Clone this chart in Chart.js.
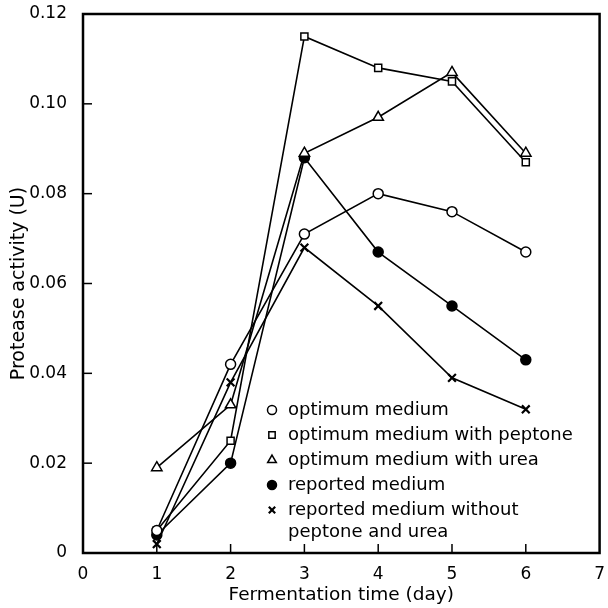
<!DOCTYPE html>
<html>
<head>
<meta charset="utf-8">
<script src="https://cdn.jsdelivr.net/npm/chart.js@4"></script>
<style>
  body { margin: 0; background: #fff; }
  #wrap { width: 608px; height: 608px; }
</style>
</head>
<body>
<div id="wrap"><canvas id="myChart"></canvas></div>
<script>
// fermentation days
let days = [1, 2, 3, 4, 5, 6];

// protease activity (U) per medium
let optimum = [0.005, 0.042, 0.071, 0.080, 0.076, 0.067];
let optimumPeptone = [0.005, 0.025, 0.115, 0.108, 0.105, 0.087];
let optimumUrea = [0.019, 0.033, 0.089, 0.097, 0.107, 0.089];
let reported = [0.004, 0.020, 0.088, 0.067, 0.055, 0.043];
let reportedPlain = [0.002, 0.038, 0.068, 0.055, 0.039, 0.032];

let labels = [
  'optimum medium',
  'optimum medium with peptone',
  'optimum medium with urea',
  'reported medium',
  ['reported medium without', 'peptone and urea']
];

let xTicks = [0, 1, 2, 3, 4, 5, 6, 7];

const FONT = '"DejaVu Sans", sans-serif';

function toPoints(values) {
  return values.map((v, i) => ({ x: days[i], y: v }));
}

function makeSet(label, values, style, filled, radius, bw) {
  return {
    label: label,
    data: toPoints(values),
    borderColor: '#000',
    backgroundColor: filled ? '#000' : '#fff',
    pointStyle: style,
    pointRadius: radius,
    pointBorderWidth: bw,
    borderWidth: 1.6,
    tension: 0
  };
}

// box + inward ticks + legend inside the plot
const decor = {
  id: 'decor',
  afterDraw(chart) {
    const c = chart.ctx;
    const a = chart.chartArea;
    const xs = chart.scales.x;
    const ys = chart.scales.y;
    c.save();
    c.strokeStyle = '#000';
    c.lineWidth = 2.5;
    c.strokeRect(a.left, a.top, a.right - a.left, a.bottom - a.top);

    c.lineWidth = 1.5;
    for (let t = 1; t <= 6; t++) {
      let px = xs.getPixelForValue(t);
      c.beginPath();
      c.moveTo(px, a.bottom);
      c.lineTo(px, a.bottom - 9);
      c.stroke();
    }
    for (let t = 1; t <= 5; t++) {
      let py = ys.getPixelForValue(t * 0.02);
      c.beginPath();
      c.moveTo(a.left, py);
      c.lineTo(a.left + 9, py);
      c.stroke();
    }

    // legend
    let lx = 272, ly = 410, step = 25;
    c.textBaseline = 'middle';
    chart.data.datasets.forEach((ds, i) => {
      let y = ly + i * step;
      c.fillStyle = ds.backgroundColor;
      c.strokeStyle = '#000';
      c.lineWidth = ds.pointBorderWidth;
      Chart.helpers.drawPoint(c, {
        pointStyle: ds.pointStyle,
        radius: ds.pointStyle === 'triangle' ? 5 : 4.5,
        borderWidth: ds.pointBorderWidth
      }, lx, y);
      c.font = '18px ' + FONT;
      c.fillStyle = '#000';
      let lines = Array.isArray(ds.label) ? ds.label : [ds.label];
      lines.forEach((s, j) => c.fillText(s, lx + 16, y + j * 22));
    });
    c.restore();
  }
};

const chart_config = {
  type: 'line',
  data: {
    datasets: [
      makeSet(labels[0], optimum, 'circle', false, 5, 1.5),
      makeSet(labels[1], optimumPeptone, 'rect', false, 5, 1.5),
      makeSet(labels[2], optimumUrea, 'triangle', false, 6, 1.5),
      makeSet(labels[3], reported, 'circle', true, 5, 1.5),
      makeSet(labels[4], reportedPlain, 'crossRot', false, 5.5, 2.2)
    ]
  },
  options: {
    responsive: true,
    maintainAspectRatio: false,
    animation: false,
    layout: { padding: { top: 14, right: 6, left: 8, bottom: 0 } },
    plugins: {
      legend: { display: false },
      tooltip: { enabled: false }
    },
    scales: {
      x: {
        type: 'linear',
        min: 0,
        max: 7,
        afterBuildTicks(scale) {
          scale.ticks = xTicks.map(v => ({ value: v }));
        },
        afterFit(scale) { scale.height = 55; },
        grid: { display: false },
        border: { display: false },
        ticks: {
          color: '#000',
          font: { family: FONT, size: 17 },
          padding: 3,
          maxRotation: 0,
          callback: v => String(v)
        },
        title: {
          display: true,
          text: 'Fermentation time (day)',
          color: '#000',
          font: { family: FONT, size: 18.5 },
          padding: { top: 0, bottom: 2 }
        }
      },
      y: {
        min: 0,
        max: 0.12,
        afterFit(scale) {
          scale.width = 75;
          scale.paddingTop = 0;
          scale.paddingBottom = 0;
        },
        grid: { display: false },
        border: { display: false },
        ticks: {
          stepSize: 0.02,
          color: '#000',
          font: { family: FONT, size: 17 },
          padding: 8,
          callback: v => (Math.abs(v) < 1e-9 ? '0' : v.toFixed(2))
        },
        title: {
          display: true,
          text: 'Protease activity (U)',
          color: '#000',
          font: { family: FONT, size: 19 },
          padding: { top: 0, bottom: 0 }
        }
      }
    }
  },
  plugins: [decor]
};

const myChart = new Chart(document.getElementById('myChart'), chart_config);
</script>
</body>
</html>
